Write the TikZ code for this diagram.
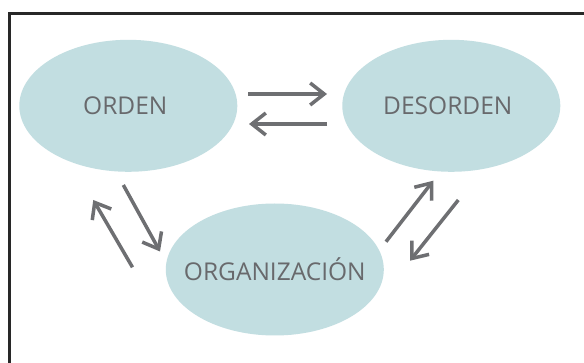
\documentclass[tikz,border=0pt]{standalone}
\usepackage{fontspec}
\setmainfont{Open Sans}
\usetikzlibrary{shapes.geometric,arrows.meta}
\definecolor{ellfill}{RGB}{194,222,225}
\definecolor{txtgray}{RGB}{104,105,108}
\definecolor{arrgray}{RGB}{110,111,114}
\definecolor{framecol}{RGB}{40,40,40}
\tikzset{
  bubble/.style={ellipse, fill=ellfill, draw=none, minimum width=218pt, minimum height=132pt,
    inner sep=0pt},
  bubtext/.style={inner sep=0pt, text=txtgray, font=\fontsize{24.5}{26}\selectfont, text height=17.5pt, text depth=0pt},
  flow/.style={draw=arrgray, line width=3.5pt, -{Straight Barb[length=14pt,width=22pt]}},
  frameline/.style={draw=framecol, line width=2.6pt}
}
\begin{document}
\begin{tikzpicture}[x=1pt,y=-1pt]
\useasboundingbox (0,0) rectangle (584,363);
\fill[white] (0,0) rectangle (584,363);
\coordinate (fbl) at (9.7,370);
\coordinate (ftl) at (9.7,13.5);
\coordinate (ftr) at (590,13.5);
\draw[frameline] (fbl) -- (ftl) -- (ftr);

\node[bubble, label={[bubtext, xshift=-3pt]center:ORDEN}] (orden) at (128.3,105.8) {};
\node[bubble, label={[bubtext, xshift=-3.5pt]center:DESORDEN}] (desorden) at (451.3,105.8) {};
\node[bubble, label={[bubtext, yshift=-2.5pt]center:ORGANIZACIÓN}] (org) at (274.8,269.5) {};

% horizontal pair
\coordinate (h1s) at (248,94);
\coordinate (h1e) at (327,94);
\coordinate (h2s) at (327,124);
\coordinate (h2e) at (249,124);
\draw[flow] (h1s) -- (h1e);
\draw[flow] (h2s) -- (h2e);

% left pair
\coordinate (l1s) at (123.3,185);
\coordinate (l1e) at (160,251.5);
\coordinate (l2s) at (132.5,267.3);
\coordinate (l2e) at (93.3,200);
\draw[flow] (l1s) -- (l1e);
\draw[flow] (l2s) -- (l2e);

% right pair
\coordinate (r1s) at (386,241.7);
\coordinate (r1e) at (433.3,180.7);
\coordinate (r2s) at (458.3,200);
\coordinate (r2e) at (410,260.7);
\draw[flow] (r1s) -- (r1e);
\draw[flow] (r2s) -- (r2e);
\end{tikzpicture}
\end{document}
